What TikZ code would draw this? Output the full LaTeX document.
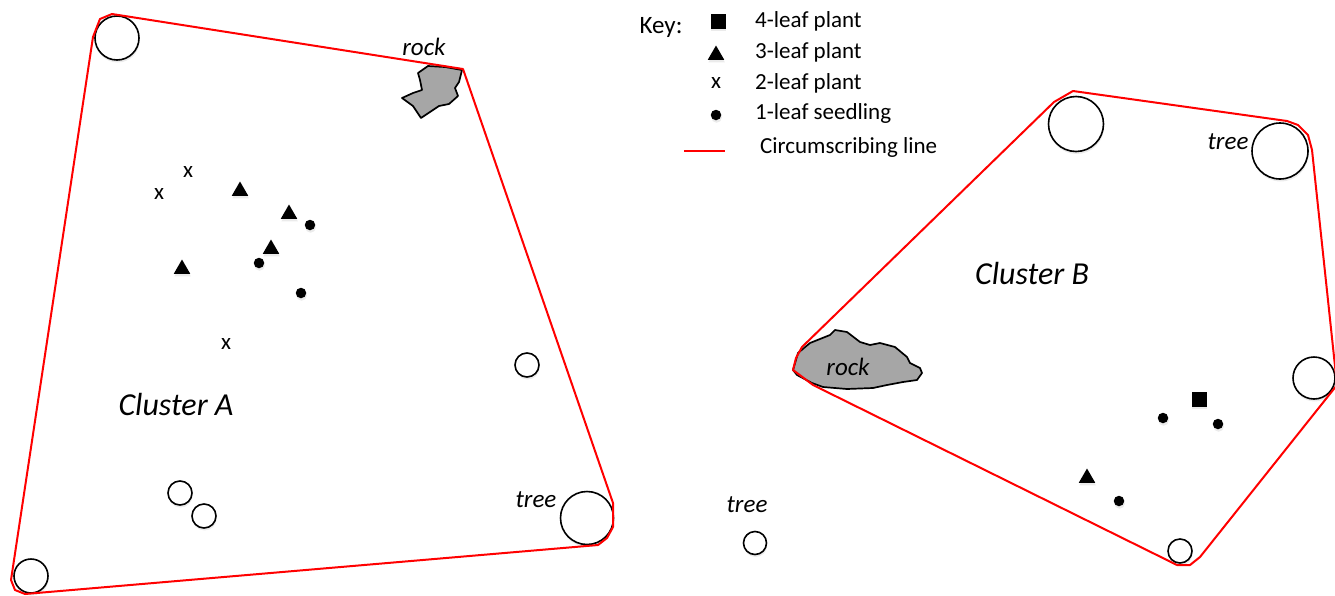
\documentclass[tikz,border=0pt]{standalone}
\usepackage{fontspec}
\setmainfont{Carlito}
\usetikzlibrary{shapes.geometric,shadows}
\begin{document}
\begin{tikzpicture}[x=1pt,y=-1pt,
  softshadow/.style={drop shadow={opacity=0.16, shadow xshift=0.6pt, shadow yshift=-2.5pt}},
  boundary/.style={red, line width=2pt, line join=round},
  treecirc/.style={circle, draw=black, fill=white, line width=1.6pt, inner sep=0pt, softshadow},
  rockshape/.style={fill=gray!70, draw=black, line width=1.7pt, line join=round},
  seedling/.style={circle, fill=black, inner sep=0pt, minimum size=10.5pt, softshadow},
  threeleaf/.style={regular polygon, regular polygon sides=3, fill=black, inner sep=0pt, minimum size=19pt, softshadow},
  fourleaf/.style={rectangle, fill=black, inner sep=0pt, minimum size=15pt, softshadow},
  twoleaf/.style={inner sep=0pt, font=\fontsize{23}{25}\selectfont},
  keytext/.style={anchor=west, inner sep=0pt, font=\fontsize{23}{26}\selectfont},
  itlabel/.style={inner sep=0pt, font=\fontsize{25}{28}\selectfont\itshape},
  clusterlabel/.style={inner sep=0pt, font=\fontsize{32}{36}\selectfont\itshape}]
\useasboundingbox (0,0) rectangle (1335,595);
\clip (0,0) rectangle (1335,595);

% ---------- Cluster A ----------
\node[treecirc, minimum size=44pt] (ta1) at (117,38) {};
\node[treecirc, minimum size=34pt] (ta2) at (31,576) {};
\node[treecirc, minimum size=53pt] (ta3) at (587,518) {};
\node[treecirc, minimum size=24pt] (ta4) at (527,365) {};
\node[treecirc, minimum size=24pt] (ta5) at (180,493) {};
\node[treecirc, minimum size=24pt] (ta6) at (204,516) {};

\draw[rockshape] (418,73) -- (428,66) -- (445,67) -- (462,70) -- (459,82) -- (455,88)
  -- (458,96) -- (449,104) -- (439,106) -- (430,112) -- (421,118) -- (413,106)
  -- (402,98) -- (413,93) -- (422,90) -- (420,80) -- cycle;

\node[twoleaf] (xa1) at (188,172) {x};
\node[twoleaf] (xa2) at (159,194) {x};
\node[twoleaf] (xa3) at (226,344) {x};
\node[threeleaf] (ra1) at (240,191) {};
\node[threeleaf] (ra2) at (289,214) {};
\node[threeleaf] (ra3) at (271,249) {};
\node[threeleaf] (ra4) at (182,269) {};
\node[seedling] (sa1) at (310,225) {};
\node[seedling] (sa2) at (259,263) {};
\node[seedling] (sa3) at (301,293) {};

\node[itlabel] (rockA) at (424,47) {rock};
\node[itlabel] (treeA) at (536,500) {tree};
\node[clusterlabel] (clA) at (176,404) {Cluster A};

\draw[boundary] (93,37) -- (100,19) -- (112,14) -- (463,69) -- (613,503) -- (613,527)
  -- (607,538) -- (598,545) -- (25,594) -- (15,590) -- (11,580) -- cycle;

% ---------- lone tree ----------
\node[itlabel] (treeC) at (747,505) {tree};
\node[treecirc, minimum size=23pt] (tc) at (755,543) {};

% ---------- Cluster B ----------
\node[treecirc, minimum size=55pt] (tb1) at (1076,124) {};
\node[treecirc, minimum size=56pt] (tb2) at (1280,151) {};
\node[treecirc, minimum size=42pt] (tb3) at (1314,378) {};
\node[treecirc, minimum size=24pt] (tb4) at (1180,551) {};

\draw[rockshape] (793,370) -- (798,353) -- (810,343) -- (830,335) -- (835,330) -- (847,332)
  -- (860,342) -- (870,345) -- (880,343) -- (895,347) -- (907,357) -- (910,363)
  -- (920,368) -- (922,373) -- (917,380) -- (903,382) -- (887,385) -- (873,388)
  -- (847,389) -- (823,387) -- (812,383) -- (797,375) -- cycle;

\node[fourleaf] (fb1) at (1199,399) {};
\node[seedling] (sb1) at (1163,418) {};
\node[seedling] (sb2) at (1218,424) {};
\node[seedling] (sb3) at (1119,501) {};
\node[threeleaf] (rb1) at (1087,478) {};

\node[itlabel] (rockB) at (848,367) {rock};
\node[itlabel] (treeB) at (1228,142) {tree};
\node[clusterlabel] (clB) at (1032,274) {Cluster B};

\draw[boundary] (802,347) -- (1054,102) -- (1073,91) -- (1287,121) -- (1298,125)
  -- (1308,135) -- (1312,150) -- (1337,385) -- (1200,557) -- (1190,565) -- (1177,565)
  -- (813,385) -- (793,370) -- (796,358) -- cycle;

% ---------- Key ----------
\node[inner sep=0pt, font=\fontsize{25}{28}\selectfont] (keyhead) at (661,27) {Key:};
\node[fourleaf] (k4) at (718,21) {};
\node[threeleaf] (k3) at (716,55) {};
\node[twoleaf] (k2) at (716,83) {x};
\node[seedling] (k1) at (716,115) {};
\coordinate (klineL) at (684,151);
\coordinate (klineR) at (725,151);
\draw[red, line width=2.8pt] (klineL) -- (klineR);
\node[keytext] (kt4) at (755,21) {4-leaf plant};
\node[keytext] (kt3) at (755,52) {3-leaf plant};
\node[keytext] (kt2) at (755,83) {2-leaf plant};
\node[keytext] (kt1) at (755,113) {1-leaf seedling};
\node[keytext] (ktl) at (760,147) {Circumscribing line};
\end{tikzpicture}
\end{document}
